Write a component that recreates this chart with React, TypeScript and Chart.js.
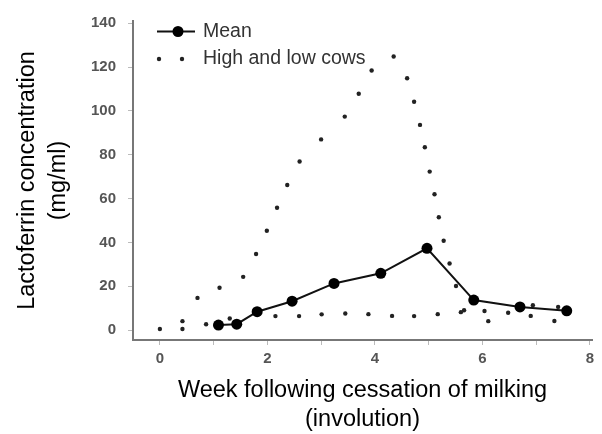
import { useEffect, useRef } from 'react';
import { Chart, registerables } from 'chart.js';

Chart.register(...registerables);

// Mean lactoferrin concentration (mg/ml) by week of involution
const meanWeeks = [1.09, 1.43, 1.81, 2.46, 3.24, 4.11, 4.97, 5.84, 6.7, 7.57];
const meanValues = [2.3, 2.7, 8.4, 13.2, 21.3, 25.9, 37.3, 13.7, 10.6, 8.8];

// High cow
const highWeeks = [0, 0.42, 0.7, 1.11, 1.55, 1.79, 1.99, 2.18, 2.37, 2.6, 3.0, 3.44, 3.7, 3.94, 4.35, 4.6, 4.73, 4.84, 4.93, 5.02, 5.11, 5.19, 5.28, 5.39, 5.51, 5.66, 6.11, 6.48, 6.9, 7.34];
const highValues = [0.5, 4.1, 14.7, 19.3, 24.3, 34.7, 45.3, 55.8, 66.2, 76.9, 87.0, 97.4, 107.8, 118.4, 124.8, 114.9, 104.2, 93.6, 83.4, 72.3, 62.0, 51.5, 40.8, 30.4, 20.1, 9.1, 4.1, 7.9, 6.5, 4.2];

// Low cow
const lowWeeks = [0.42, 0.86, 1.3, 2.15, 2.59, 3.01, 3.45, 3.88, 4.32, 4.73, 5.17, 5.6, 6.04, 6.94, 7.41];
const lowValues = [0.5, 2.7, 5.3, 6.4, 6.4, 7.2, 7.6, 7.3, 6.5, 6.4, 7.3, 8.2, 8.7, 11.4, 10.6];

const xTickValues = [0, 1, 2, 3, 4, 5, 6, 7, 8];
const yTickValues = [0, 20, 40, 60, 80, 100, 120, 140];
const xTitle = ['Week following cessation of milking', '(involution)'];
const yTitle = ['Lactoferrin concentration', '(mg/ml)'];
const legendLabels = ['Mean', 'High and low cows'];

const FAMILY = '"Liberation Sans", Arial, Helvetica, sans-serif';

const toPoints = (xs: number[], ys: number[]) => xs.map((x, i) => ({ x, y: ys[i] }));

const legendPlugin = {
  id: 'customLegend',
  afterDraw(chart: any) {
    const ctx = chart.ctx as CanvasRenderingContext2D;
    ctx.save();
    // Mean entry: line with filled circle
    ctx.strokeStyle = '#111';
    ctx.lineWidth = 2;
    ctx.beginPath();
    ctx.moveTo(157, 31.5);
    ctx.lineTo(195, 31.5);
    ctx.stroke();
    ctx.fillStyle = '#000';
    ctx.beginPath();
    ctx.arc(178, 31.5, 5.5, 0, Math.PI * 2);
    ctx.fill();
    ctx.font = `19.5px ${FAMILY}`;
    ctx.textBaseline = 'alphabetic';
    ctx.textAlign = 'left';
    ctx.fillStyle = '#333';
    ctx.fillText(legendLabels[0], 203, 37);
    // High and low cows entry: two dots
    ctx.fillStyle = '#222';
    [159, 182].forEach((x) => {
      ctx.beginPath();
      ctx.arc(x, 59, 2.2, 0, Math.PI * 2);
      ctx.fill();
    });
    ctx.fillStyle = '#333';
    ctx.fillText(legendLabels[1], 203, 64);
    ctx.restore();
  },
};

export default function App() {
  const canvasRef = useRef<HTMLCanvasElement | null>(null);

  useEffect(() => {
    if (!canvasRef.current) return;
    const chart = new Chart(canvasRef.current, {
      type: 'scatter',
      data: {
        datasets: [
          {
            label: legendLabels[0],
            data: toPoints(meanWeeks, meanValues),
            showLine: true,
            borderColor: '#111',
            borderWidth: 2,
            pointRadius: 5.5,
            pointBackgroundColor: '#000',
            pointBorderWidth: 0,
          },
          {
            label: 'High cow',
            data: toPoints(highWeeks, highValues),
            showLine: false,
            pointRadius: 2.2,
            pointBackgroundColor: '#222',
            pointBorderWidth: 0,
          },
          {
            label: 'Low cow',
            data: toPoints(lowWeeks, lowValues),
            showLine: false,
            pointRadius: 2.2,
            pointBackgroundColor: '#222',
            pointBorderWidth: 0,
          },
        ],
      },
      options: {
        responsive: false,
        animation: false,
        devicePixelRatio: 1,
        layout: { padding: { left: 0, top: 20, right: 10, bottom: 0 } },
        plugins: { legend: { display: false }, tooltip: { enabled: false } },
        scales: {
          x: {
            type: 'linear',
            min: -0.5,
            max: 8.04,
            afterBuildTicks: (axis: any) => {
              axis.ticks = xTickValues.map((value) => ({ value }));
            },
            afterFit: (scale: any) => {
              scale.height = 94;
            },
            grid: { drawOnChartArea: false, drawTicks: true, tickLength: 5, color: '#bbb', lineWidth: 1 },
            border: { display: true, color: '#777', width: 2 },
            ticks: {
              padding: 5,
              color: '#555',
              autoSkip: false,
              maxRotation: 0,
              font: { family: FAMILY, size: 15, weight: 'bold' },
              callback: (v: any) => (Number(v) % 2 === 0 ? String(v) : ''),
            },
            title: {
              display: true,
              text: xTitle,
              color: '#000',
              font: { family: FAMILY, size: 23.5, lineHeight: '29px' },
              padding: { top: 0, bottom: 0 },
            },
          },
          y: {
            type: 'linear',
            min: -4.5,
            max: 141,
            afterBuildTicks: (axis: any) => {
              axis.ticks = yTickValues.map((value) => ({ value }));
            },
            afterFit: (scale: any) => {
              scale.width = 133;
            },
            grid: { drawOnChartArea: false, drawTicks: true, tickLength: 5, color: '#bbb', lineWidth: 1 },
            border: { display: true, color: '#777', width: 2 },
            ticks: {
              padding: 12,
              color: '#555',
              font: { family: FAMILY, size: 15, weight: 'bold' },
            },
            title: {
              display: true,
              text: yTitle,
              color: '#000',
              font: { family: FAMILY, size: 23.5, lineHeight: '31px' },
              padding: { top: 12, bottom: 0 },
            },
          },
        },
      },
      plugins: [legendPlugin],
    } as any);
    return () => chart.destroy();
  }, []);

  return (
    <div style={{ position: 'fixed', left: 0, top: 0, width: 602, height: 434, background: '#fff' }}>
      <canvas ref={canvasRef} width={602} height={434} style={{ display: 'block' }} />
    </div>
  );
}
